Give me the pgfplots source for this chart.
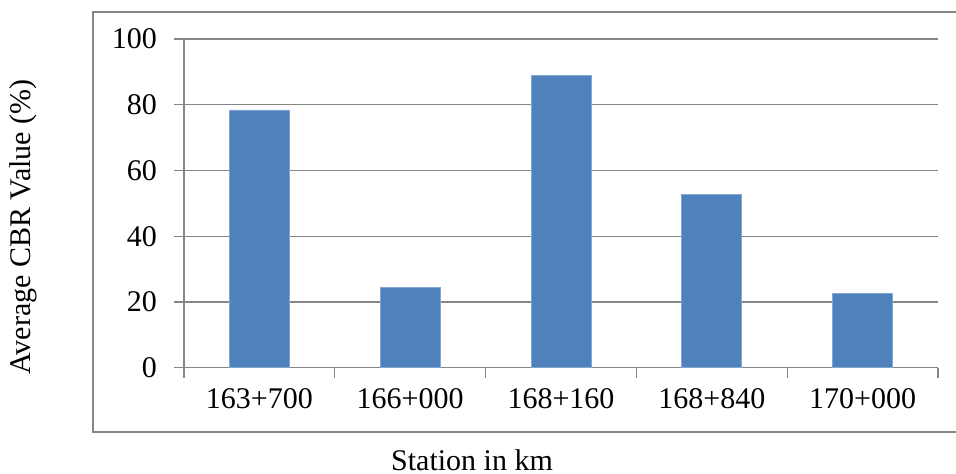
\documentclass[border=0pt]{standalone}
\usepackage{pgfplots}
\pgfplotsset{compat=1.18}
\usepackage{fontspec}
\setmainfont{Liberation Serif}
\definecolor{barblue}{RGB}{79,129,189}
\definecolor{axisgray}{RGB}{134,134,134}
\begin{document}
\begin{tikzpicture}[x=1pt,y=1pt]
\useasboundingbox (0,0) rectangle (478,237);
% outer chart frame (open on the right)
\draw[axisgray, line width=0.7pt] (478,231) -- (46.5,231) -- (46.5,21) -- (478,21);
\begin{axis}[
  at={(92pt,53.15pt)}, anchor=south west,
  scale only axis, width=377pt, height=164.35pt,
  xmin=-0.5, xmax=4.5, ymin=0, ymax=100,
  axis lines*=left,
  axis line style={axisgray, line width=0.6pt},
  ymajorgrids, grid style={axisgray, line width=0.6pt},
  tick style={axisgray, line width=0.6pt},
  tick align=outside, major tick length=5pt,
  ytick={0,20,...,100},
  xtick={-0.5,0.5,1.5,2.5,3.5,4.5}, xticklabels={},
  extra x ticks={0,1,2,3,4},
  extra x tick labels={163+700,166+000,168+160,168+840,170+000},
  extra x tick style={tick style={draw=none}},
  /pgf/number format/assume math mode=true,
  ticklabel style={font=\fontsize{15}{18}\selectfont, text=black},
  xticklabel style={yshift=-2pt},
  yticklabel style={xshift=-5pt},
  label style={font=\fontsize{15}{18}\selectfont},
  xlabel={Station in km},
  xlabel style={at={(axis description cs:0.382,-0.281)}, anchor=center},
  ylabel={Average CBR Value (\%)},
  ylabel style={at={(axis description cs:-0.2135,0.428)}, anchor=center},
]
\addplot[ybar, bar width=30pt, fill=barblue, draw=barblue!70!white, line width=0.4pt]
  coordinates {(0,78.4) (1,24.3) (2,89.0) (3,52.7) (4,22.6)};
\end{axis}
\end{tikzpicture}
\end{document}
